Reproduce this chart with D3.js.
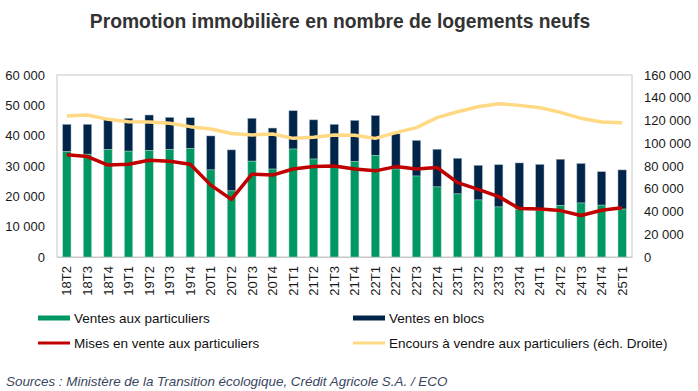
<!DOCTYPE html>
<html><head><meta charset="utf-8">
<script src="https://cdn.jsdelivr.net/npm/d3@7"></script>
<style>
body{margin:0;background:#fff;}
svg{display:block;font-family:"Liberation Sans",Arial,sans-serif;}
</style></head>
<body><svg id="c" width="698" height="391"></svg>
<script>
const categories = ["18T2","18T3","18T4","19T1","19T2","19T3","19T4","20T1","20T2","20T3","20T4","21T1","21T2","21T3","21T4","22T1","22T2","22T3","22T4","23T1","23T2","23T3","23T4","24T1","24T2","24T3","24T4","25T1"];
const ventesParticuliers = [34700,33900,35400,34900,35100,35400,35800,28700,21800,31600,29000,35600,32300,29800,31400,33500,29000,26700,23100,20800,18800,16500,15600,15300,17000,17800,17100,15800];
const ventesBlocs = [9000,9800,9800,10800,11700,10600,10100,11200,13500,14100,13500,12600,12900,13900,13600,13100,11600,11700,12400,11700,11400,13900,15400,15200,15200,13000,11000,12900];
const misesEnVente = [33700,33100,30300,30600,31900,31600,30600,23700,19000,27300,27000,29000,29800,30000,29000,28400,29800,29000,29500,24500,22300,19900,16000,15800,15300,13700,15400,16200];
const encours = [124000,124800,121000,118900,118700,117500,114600,112500,108500,107300,108100,104300,105200,107300,107000,104300,109300,113700,122500,127700,132100,134800,133300,131300,127200,121900,118700,118100];
const leftTicks = [0,10000,20000,30000,40000,50000,60000];
const rightTicks = [0,20000,40000,60000,80000,100000,120000,140000,160000];

const svg = d3.select("#c");
const m = {l:57, r:632, t:75, b:257};
const x = d3.scaleBand().domain(categories).range([m.l, m.r]).paddingInner(0.6).paddingOuter(0.28);
const yL = d3.scaleLinear().domain([0,60000]).range([m.b, m.t]);
const yR = d3.scaleLinear().domain([0,160000]).range([m.b, m.t]);
const fmt = v => d3.format(",")(v).replace(/,/g," ");

svg.append("text").attr("x",340).attr("y",28).attr("text-anchor","middle")
  .attr("font-size",19.3).attr("font-weight","bold").attr("fill","#333333")
  .text("Promotion immobilière en nombre de logements neufs");

// plot frame
svg.append("rect").attr("x",m.l).attr("y",m.t).attr("width",m.r-m.l).attr("height",m.b-m.t)
  .attr("fill","none").attr("stroke","#c8c8c8").attr("stroke-width",1);

// left axis
const gL = svg.append("g").attr("transform",`translate(${m.l},0)`)
  .call(d3.axisLeft(yL).tickValues(leftTicks).tickFormat(fmt).tickSize(0).tickPadding(12));
gL.select(".domain").remove();
gL.selectAll("text").attr("font-size",13).attr("fill","#1a1a1a").attr("font-family","Liberation Sans, Arial, sans-serif");

const gR = svg.append("g").attr("transform",`translate(${m.r},0)`)
  .call(d3.axisRight(yR).tickValues(rightTicks).tickFormat(fmt).tickSize(0).tickPadding(12));
gR.select(".domain").remove();
gR.selectAll("text").attr("font-size",13).attr("fill","#1a1a1a").attr("font-family","Liberation Sans, Arial, sans-serif");

// bars
const data = categories.map((c,i)=>({c, p:ventesParticuliers[i], b:ventesBlocs[i]}));
svg.append("g").selectAll("rect").data(data).join("rect")
  .attr("x",d=>x(d.c)).attr("width",x.bandwidth())
  .attr("y",d=>yL(d.p+d.b)).attr("height",d=>yL(d.p)-yL(d.p+d.b))
  .attr("fill","#002548").attr("stroke","#8fa3b8").attr("stroke-width",0.5);
svg.append("g").selectAll("rect").data(data).join("rect")
  .attr("x",d=>x(d.c)).attr("width",x.bandwidth())
  .attr("y",d=>yL(d.p)).attr("height",d=>yL(0)-yL(d.p))
  .attr("fill","#009862").attr("stroke","#a8d5c0").attr("stroke-width",0.5);

// x axis
const gX = svg.append("g").attr("transform",`translate(0,${m.b})`)
  .call(d3.axisBottom(x).tickSize(0).tickPadding(0));
gX.select(".domain").attr("stroke","#c8c8c8");
gX.selectAll("text").attr("font-size",13).attr("fill","#1a1a1a")
  .attr("font-family","Liberation Sans, Arial, sans-serif")
  .attr("transform","rotate(-90)").attr("text-anchor","end")
  .attr("x",-9).attr("y",0).attr("dy","0.35em");

const cx = c => x(c)+x.bandwidth()/2;
svg.append("path").datum(encours)
  .attr("d", d3.line().x((d,i)=>cx(categories[i])).y(d=>yR(d)))
  .attr("fill","none").attr("stroke","#ffd983").attr("stroke-width",3.5).attr("stroke-linejoin","round");
svg.append("path").datum(misesEnVente)
  .attr("d", d3.line().x((d,i)=>cx(categories[i])).y(d=>yL(d)))
  .attr("fill","none").attr("stroke","#c00000").attr("stroke-width",3.5).attr("stroke-linejoin","round");

// legend
const leg = [
  {t:"Ventes aux particuliers", c:"#009862", x:38, y:318, h:5},
  {t:"Ventes en blocs", c:"#002548", x:353, y:318, h:5},
  {t:"Mises en vente aux particuliers", c:"#c00000", x:38, y:343, h:3},
  {t:"Encours à vendre aux particuliers (éch. Droite)", c:"#ffd983", x:353, y:343, h:3}
];
const lg = svg.append("g").selectAll("g").data(leg).join("g");
lg.append("rect").attr("x",d=>d.x).attr("y",d=>d.y-d.h/2).attr("width",32).attr("height",d=>d.h).attr("fill",d=>d.c);
lg.append("text").attr("x",d=>d.x+36).attr("y",d=>d.y).attr("dy","0.35em")
  .attr("font-size",13.5).attr("fill","#111").text(d=>d.t);

svg.append("text").attr("x",6).attr("y",386).attr("font-size",13.4).attr("font-style","italic")
  .attr("fill","#3a4660").text("Sources : Ministère de la Transition écologique, Crédit Agricole S.A. / ECO");
</script></body></html>
